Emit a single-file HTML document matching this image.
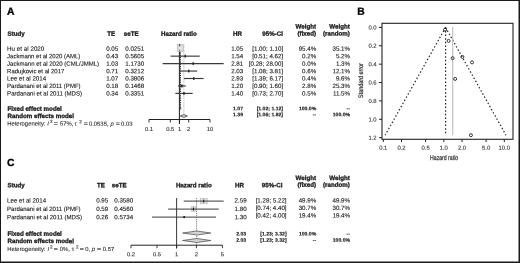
<!DOCTYPE html>
<html><head><meta charset="utf-8"><style>
html,body{margin:0;padding:0;background:#fff;}
svg{display:block;will-change:transform;text-rendering:geometricPrecision;font-family:"Liberation Sans",sans-serif;}
</style></head><body>
<svg width="520" height="263" viewBox="0 0 520 263">
<rect x="0" y="0" width="520" height="263" fill="#fff"/>
<text x="7.00" y="14.75" font-size="10.3" font-weight="bold" fill="#000" stroke="#000" stroke-width="0.3" transform="rotate(0.03 7.00 14.75)">A</text>
<text x="357.20" y="14.75" font-size="10.3" font-weight="bold" fill="#000" stroke="#000" stroke-width="0.3" transform="rotate(0.03 357.20 14.75)">B</text>
<text x="7.00" y="166.10" font-size="10.3" font-weight="bold" fill="#000" stroke="#000" stroke-width="0.3" transform="rotate(0.03 7.00 166.10)">C</text>
<text x="7.50" y="35.70" font-size="6.2" font-weight="bold" fill="#1a1a1a" stroke="#1a1a1a" stroke-width="0.3" transform="rotate(0.03 7.50 35.70)">Study</text>
<text x="115.20" y="35.70" font-size="6.2" font-weight="bold" text-anchor="end" fill="#1a1a1a" stroke="#1a1a1a" stroke-width="0.3" transform="rotate(0.03 115.20 35.70)">TE</text>
<text x="138.60" y="35.70" font-size="6.2" font-weight="bold" text-anchor="end" fill="#1a1a1a" stroke="#1a1a1a" stroke-width="0.3" transform="rotate(0.03 138.60 35.70)">seTE</text>
<text x="179.00" y="35.70" font-size="6.2" font-weight="bold" text-anchor="middle" fill="#1a1a1a" stroke="#1a1a1a" stroke-width="0.3" transform="rotate(0.03 179.00 35.70)">Hazard ratio</text>
<text x="242.00" y="35.70" font-size="6.2" font-weight="bold" text-anchor="end" fill="#1a1a1a" stroke="#1a1a1a" stroke-width="0.3" transform="rotate(0.03 242.00 35.70)">HR</text>
<text x="283.00" y="35.70" font-size="6.2" font-weight="bold" text-anchor="end" fill="#1a1a1a" stroke="#1a1a1a" stroke-width="0.3" transform="rotate(0.03 283.00 35.70)">95%-CI</text>
<text x="316.10" y="28.60" font-size="6.2" font-weight="bold" text-anchor="end" fill="#1a1a1a" stroke="#1a1a1a" stroke-width="0.3" transform="rotate(0.03 316.10 28.60)">Weight</text>
<text x="316.10" y="35.40" font-size="6.2" font-weight="bold" text-anchor="end" fill="#1a1a1a" stroke="#1a1a1a" stroke-width="0.3" transform="rotate(0.03 316.10 35.40)">(fixed)</text>
<text x="349.80" y="28.60" font-size="6.2" font-weight="bold" text-anchor="end" fill="#1a1a1a" stroke="#1a1a1a" stroke-width="0.3" transform="rotate(0.03 349.80 28.60)">Weight</text>
<text x="349.80" y="35.40" font-size="6.2" font-weight="bold" text-anchor="end" fill="#1a1a1a" stroke="#1a1a1a" stroke-width="0.3" transform="rotate(0.03 349.80 35.40)">(random)</text>
<line x1="183.85" y1="44.50" x2="183.85" y2="114.00" stroke="#d2d2d2" stroke-width="1.2" stroke-dasharray="1.8 0.5"/>
<line x1="179.40" y1="51.00" x2="179.40" y2="124.00" stroke="#1a1a1a" stroke-width="1.0"/>
<line x1="180.50" y1="51.60" x2="180.50" y2="109.00" stroke="#111" stroke-width="1.0" stroke-dasharray="0.9 0.9"/>
<text x="7.10" y="50.80" font-size="6.2" fill="#1a1a1a" stroke="#1a1a1a" stroke-width="0.12" transform="rotate(0.03 7.10 50.80)" textLength="37.25" lengthAdjust="spacingAndGlyphs">Hu et al 2020</text>
<text x="118.20" y="50.80" font-size="6.2" text-anchor="end" fill="#1a1a1a" stroke="#1a1a1a" stroke-width="0.12" transform="rotate(0.03 118.20 50.80)">0.05</text>
<text x="144.20" y="50.80" font-size="6.2" text-anchor="end" fill="#1a1a1a" stroke="#1a1a1a" stroke-width="0.12" transform="rotate(0.03 144.20 50.80)">0.0251</text>
<text x="243.20" y="50.80" font-size="6.2" text-anchor="end" fill="#1a1a1a" stroke="#1a1a1a" stroke-width="0.12" transform="rotate(0.03 243.20 50.80)">1.05</text>
<text x="283.20" y="50.80" font-size="6.2" text-anchor="end" fill="#1a1a1a" stroke="#1a1a1a" stroke-width="0.12" transform="rotate(0.03 283.20 50.80)">[1.00; 1.10]</text>
<text x="316.20" y="50.80" font-size="6.2" text-anchor="end" fill="#1a1a1a" stroke="#1a1a1a" stroke-width="0.12" transform="rotate(0.03 316.20 50.80)">95.4%</text>
<text x="350.00" y="50.80" font-size="6.2" text-anchor="end" fill="#1a1a1a" stroke="#1a1a1a" stroke-width="0.12" transform="rotate(0.03 350.00 50.80)">35.1%</text>
<rect x="177.20" y="44.60" width="6.30" height="6.80" fill="#dadada" stroke="#b4b4b4" stroke-width="0.6"/>
<line x1="179.60" y1="44.00" x2="179.60" y2="46.40" stroke="#555" stroke-width="1.2"/>
<rect x="179.50" y="46.60" width="1.90" height="2.70" fill="#f0f0f0" stroke="none" stroke-width="1"/>
<line x1="179.60" y1="49.60" x2="179.60" y2="51.50" stroke="#888" stroke-width="1.0"/>
<text x="7.10" y="58.25" font-size="6.2" fill="#1a1a1a" stroke="#1a1a1a" stroke-width="0.12" transform="rotate(0.03 7.10 58.25)" textLength="73.25" lengthAdjust="spacingAndGlyphs">Jackmann et al 2020 (AML)</text>
<text x="118.20" y="58.25" font-size="6.2" text-anchor="end" fill="#1a1a1a" stroke="#1a1a1a" stroke-width="0.12" transform="rotate(0.03 118.20 58.25)">0.43</text>
<text x="144.20" y="58.25" font-size="6.2" text-anchor="end" fill="#1a1a1a" stroke="#1a1a1a" stroke-width="0.12" transform="rotate(0.03 144.20 58.25)">0.5605</text>
<text x="243.20" y="58.25" font-size="6.2" text-anchor="end" fill="#1a1a1a" stroke="#1a1a1a" stroke-width="0.12" transform="rotate(0.03 243.20 58.25)">1.54</text>
<text x="283.20" y="58.25" font-size="6.2" text-anchor="end" fill="#1a1a1a" stroke="#1a1a1a" stroke-width="0.12" transform="rotate(0.03 283.20 58.25)">[0.51; 4.62]</text>
<text x="316.20" y="58.25" font-size="6.2" text-anchor="end" fill="#1a1a1a" stroke="#1a1a1a" stroke-width="0.12" transform="rotate(0.03 316.20 58.25)">0.2%</text>
<text x="350.00" y="58.25" font-size="6.2" text-anchor="end" fill="#1a1a1a" stroke="#1a1a1a" stroke-width="0.12" transform="rotate(0.03 350.00 58.25)">5.2%</text>
<line x1="170.58" y1="56.15" x2="199.77" y2="56.15" stroke="#3a3a3a" stroke-width="1.15"/>
<rect x="184.55" y="54.75" width="1.33" height="2.80" fill="#222" stroke="none" stroke-width="1"/>
<text x="7.10" y="65.70" font-size="6.2" fill="#1a1a1a" stroke="#1a1a1a" stroke-width="0.12" transform="rotate(0.03 7.10 65.70)" textLength="92.00" lengthAdjust="spacingAndGlyphs">Jackmann et al 2020 (CML/JMML)</text>
<text x="118.20" y="65.70" font-size="6.2" text-anchor="end" fill="#1a1a1a" stroke="#1a1a1a" stroke-width="0.12" transform="rotate(0.03 118.20 65.70)">1.03</text>
<text x="144.20" y="65.70" font-size="6.2" text-anchor="end" fill="#1a1a1a" stroke="#1a1a1a" stroke-width="0.12" transform="rotate(0.03 144.20 65.70)">1.1730</text>
<text x="243.20" y="65.70" font-size="6.2" text-anchor="end" fill="#1a1a1a" stroke="#1a1a1a" stroke-width="0.12" transform="rotate(0.03 243.20 65.70)">2.81</text>
<text x="283.20" y="65.70" font-size="6.2" text-anchor="end" fill="#1a1a1a" stroke="#1a1a1a" stroke-width="0.12" transform="rotate(0.03 283.20 65.70)">[0.28; 28.00]</text>
<text x="316.20" y="65.70" font-size="6.2" text-anchor="end" fill="#1a1a1a" stroke="#1a1a1a" stroke-width="0.12" transform="rotate(0.03 316.20 65.70)">0.0%</text>
<text x="350.00" y="65.70" font-size="6.2" text-anchor="end" fill="#1a1a1a" stroke="#1a1a1a" stroke-width="0.12" transform="rotate(0.03 350.00 65.70)">1.3%</text>
<line x1="162.64" y1="63.60" x2="223.64" y2="63.60" stroke="#3a3a3a" stroke-width="1.15"/>
<rect x="192.54" y="62.20" width="1.30" height="2.80" fill="#222" stroke="none" stroke-width="1"/>
<text x="7.10" y="73.15" font-size="6.2" fill="#1a1a1a" stroke="#1a1a1a" stroke-width="0.12" transform="rotate(0.03 7.10 73.15)" textLength="57.25" lengthAdjust="spacingAndGlyphs">Radujkovic et al 2017</text>
<text x="118.20" y="73.15" font-size="6.2" text-anchor="end" fill="#1a1a1a" stroke="#1a1a1a" stroke-width="0.12" transform="rotate(0.03 118.20 73.15)">0.71</text>
<text x="144.20" y="73.15" font-size="6.2" text-anchor="end" fill="#1a1a1a" stroke="#1a1a1a" stroke-width="0.12" transform="rotate(0.03 144.20 73.15)">0.3212</text>
<text x="243.20" y="73.15" font-size="6.2" text-anchor="end" fill="#1a1a1a" stroke="#1a1a1a" stroke-width="0.12" transform="rotate(0.03 243.20 73.15)">2.03</text>
<text x="283.20" y="73.15" font-size="6.2" text-anchor="end" fill="#1a1a1a" stroke="#1a1a1a" stroke-width="0.12" transform="rotate(0.03 283.20 73.15)">[1.08; 3.81]</text>
<text x="316.20" y="73.15" font-size="6.2" text-anchor="end" fill="#1a1a1a" stroke="#1a1a1a" stroke-width="0.12" transform="rotate(0.03 316.20 73.15)">0.6%</text>
<text x="350.00" y="73.15" font-size="6.2" text-anchor="end" fill="#1a1a1a" stroke="#1a1a1a" stroke-width="0.12" transform="rotate(0.03 350.00 73.15)">12.1%</text>
<line x1="180.52" y1="71.05" x2="197.22" y2="71.05" stroke="#3a3a3a" stroke-width="1.15"/>
<rect x="188.18" y="69.65" width="1.39" height="2.80" fill="#222" stroke="none" stroke-width="1"/>
<text x="7.10" y="80.60" font-size="6.2" fill="#1a1a1a" stroke="#1a1a1a" stroke-width="0.12" transform="rotate(0.03 7.10 80.60)" textLength="39.00" lengthAdjust="spacingAndGlyphs">Lee et al 2014</text>
<text x="118.20" y="80.60" font-size="6.2" text-anchor="end" fill="#1a1a1a" stroke="#1a1a1a" stroke-width="0.12" transform="rotate(0.03 118.20 80.60)">1.07</text>
<text x="144.20" y="80.60" font-size="6.2" text-anchor="end" fill="#1a1a1a" stroke="#1a1a1a" stroke-width="0.12" transform="rotate(0.03 144.20 80.60)">0.3806</text>
<text x="243.20" y="80.60" font-size="6.2" text-anchor="end" fill="#1a1a1a" stroke="#1a1a1a" stroke-width="0.12" transform="rotate(0.03 243.20 80.60)">2.93</text>
<text x="283.20" y="80.60" font-size="6.2" text-anchor="end" fill="#1a1a1a" stroke="#1a1a1a" stroke-width="0.12" transform="rotate(0.03 283.20 80.60)">[1.39; 6.17]</text>
<text x="316.20" y="80.60" font-size="6.2" text-anchor="end" fill="#1a1a1a" stroke="#1a1a1a" stroke-width="0.12" transform="rotate(0.03 316.20 80.60)">0.4%</text>
<text x="350.00" y="80.60" font-size="6.2" text-anchor="end" fill="#1a1a1a" stroke="#1a1a1a" stroke-width="0.12" transform="rotate(0.03 350.00 80.60)">9.6%</text>
<line x1="183.86" y1="78.50" x2="203.60" y2="78.50" stroke="#3a3a3a" stroke-width="1.15"/>
<rect x="193.06" y="77.10" width="1.36" height="2.80" fill="#222" stroke="none" stroke-width="1"/>
<text x="7.10" y="88.05" font-size="6.2" fill="#1a1a1a" stroke="#1a1a1a" stroke-width="0.12" transform="rotate(0.03 7.10 88.05)" textLength="73.50" lengthAdjust="spacingAndGlyphs">Pardanani et al 2011 (PMF)</text>
<text x="118.20" y="88.05" font-size="6.2" text-anchor="end" fill="#1a1a1a" stroke="#1a1a1a" stroke-width="0.12" transform="rotate(0.03 118.20 88.05)">0.18</text>
<text x="144.20" y="88.05" font-size="6.2" text-anchor="end" fill="#1a1a1a" stroke="#1a1a1a" stroke-width="0.12" transform="rotate(0.03 144.20 88.05)">0.1468</text>
<text x="243.20" y="88.05" font-size="6.2" text-anchor="end" fill="#1a1a1a" stroke="#1a1a1a" stroke-width="0.12" transform="rotate(0.03 243.20 88.05)">1.20</text>
<text x="283.20" y="88.05" font-size="6.2" text-anchor="end" fill="#1a1a1a" stroke="#1a1a1a" stroke-width="0.12" transform="rotate(0.03 283.20 88.05)">[0.90; 1.60]</text>
<text x="316.20" y="88.05" font-size="6.2" text-anchor="end" fill="#1a1a1a" stroke="#1a1a1a" stroke-width="0.12" transform="rotate(0.03 316.20 88.05)">2.8%</text>
<text x="350.00" y="88.05" font-size="6.2" text-anchor="end" fill="#1a1a1a" stroke="#1a1a1a" stroke-width="0.12" transform="rotate(0.03 350.00 88.05)">25.3%</text>
<line x1="178.10" y1="85.95" x2="185.73" y2="85.95" stroke="#3a3a3a" stroke-width="1.15"/>
<rect x="181.06" y="84.55" width="1.72" height="2.80" fill="#222" stroke="none" stroke-width="1"/>
<text x="7.10" y="95.50" font-size="6.2" fill="#1a1a1a" stroke="#1a1a1a" stroke-width="0.12" transform="rotate(0.03 7.10 95.50)" textLength="75.00" lengthAdjust="spacingAndGlyphs">Pardanani et al 2011 (MDS)</text>
<text x="118.20" y="95.50" font-size="6.2" text-anchor="end" fill="#1a1a1a" stroke="#1a1a1a" stroke-width="0.12" transform="rotate(0.03 118.20 95.50)">0.34</text>
<text x="144.20" y="95.50" font-size="6.2" text-anchor="end" fill="#1a1a1a" stroke="#1a1a1a" stroke-width="0.12" transform="rotate(0.03 144.20 95.50)">0.3351</text>
<text x="243.20" y="95.50" font-size="6.2" text-anchor="end" fill="#1a1a1a" stroke="#1a1a1a" stroke-width="0.12" transform="rotate(0.03 243.20 95.50)">1.40</text>
<text x="283.20" y="95.50" font-size="6.2" text-anchor="end" fill="#1a1a1a" stroke="#1a1a1a" stroke-width="0.12" transform="rotate(0.03 283.20 95.50)">[0.73; 2.70]</text>
<text x="316.20" y="95.50" font-size="6.2" text-anchor="end" fill="#1a1a1a" stroke="#1a1a1a" stroke-width="0.12" transform="rotate(0.03 316.20 95.50)">0.5%</text>
<text x="350.00" y="95.50" font-size="6.2" text-anchor="end" fill="#1a1a1a" stroke="#1a1a1a" stroke-width="0.12" transform="rotate(0.03 350.00 95.50)">11.5%</text>
<line x1="175.33" y1="93.40" x2="192.66" y2="93.40" stroke="#3a3a3a" stroke-width="1.15"/>
<rect x="183.27" y="92.00" width="1.38" height="2.80" fill="#222" stroke="none" stroke-width="1"/>
<text x="7.50" y="110.70" font-size="6.2" font-weight="bold" fill="#1a1a1a" stroke="#1a1a1a" stroke-width="0.3" transform="rotate(0.03 7.50 110.70)">Fixed effect model</text>
<text x="7.50" y="117.90" font-size="6.2" font-weight="bold" fill="#1a1a1a" stroke="#1a1a1a" stroke-width="0.3" transform="rotate(0.03 7.50 117.90)">Random effects model</text>
<text font-size="5.9" fill="#333" stroke="#333" stroke-width="0.12" transform="rotate(0.03 7.20 125.60)"><tspan x="7.20" y="125.60">Heterogeneity:</tspan><tspan x="47.30" y="125.60" font-style="italic">I</tspan><tspan x="50.00" y="123.10" font-size="4.6">2</tspan><tspan x="53.80" y="125.60" textLength="4.1" lengthAdjust="spacingAndGlyphs">=</tspan><tspan x="59.90" y="125.60">57%,</tspan><tspan x="74.40" y="125.60">τ</tspan><tspan x="79.20" y="123.10" font-size="4.6">2</tspan><tspan x="83.80" y="125.60" textLength="4.1" lengthAdjust="spacingAndGlyphs">=</tspan><tspan x="88.90" y="125.60">0.0535,</tspan><tspan x="110.50" y="125.60" font-style="italic">p</tspan><tspan x="115.80" y="125.60" textLength="4.1" lengthAdjust="spacingAndGlyphs">=</tspan><tspan x="121.10" y="125.60">0.03</tspan></text>
<text x="243.00" y="110.30" font-size="5.1" font-weight="bold" text-anchor="end" fill="#1a1a1a" stroke="#1a1a1a" stroke-width="0.15" transform="rotate(0.03 243.00 110.30)">1.07</text>
<text x="283.00" y="110.30" font-size="5.1" font-weight="bold" text-anchor="end" fill="#1a1a1a" stroke="#1a1a1a" stroke-width="0.15" transform="rotate(0.03 283.00 110.30)">[1.02; 1.12]</text>
<text x="316.20" y="110.30" font-size="5.1" font-weight="bold" text-anchor="end" fill="#1a1a1a" stroke="#1a1a1a" stroke-width="0.15" transform="rotate(0.03 316.20 110.30)">100.0%</text>
<text x="350.00" y="110.30" font-size="5.1" font-weight="bold" text-anchor="end" fill="#1a1a1a" stroke="#1a1a1a" stroke-width="0.15" transform="rotate(0.03 350.00 110.30)">--</text>
<text x="243.00" y="116.30" font-size="5.1" font-weight="bold" text-anchor="end" fill="#1a1a1a" stroke="#1a1a1a" stroke-width="0.15" transform="rotate(0.03 243.00 116.30)">1.39</text>
<text x="283.00" y="116.30" font-size="5.1" font-weight="bold" text-anchor="end" fill="#1a1a1a" stroke="#1a1a1a" stroke-width="0.15" transform="rotate(0.03 283.00 116.30)">[1.06; 1.82]</text>
<text x="316.20" y="116.30" font-size="5.1" font-weight="bold" text-anchor="end" fill="#1a1a1a" stroke="#1a1a1a" stroke-width="0.15" transform="rotate(0.03 316.20 116.30)">--</text>
<text x="350.00" y="116.30" font-size="5.1" font-weight="bold" text-anchor="end" fill="#1a1a1a" stroke="#1a1a1a" stroke-width="0.15" transform="rotate(0.03 350.00 116.30)">100.0%</text>
<polygon points="179.76,108.30 180.40,107.10 181.00,108.30 180.40,109.50" fill="#999" stroke="#333" stroke-width="0.6"/>
<polygon points="180.27,116.00 183.86,114.50 187.43,116.00 183.86,117.50" fill="#ccc" stroke="#333" stroke-width="0.7"/>
<line x1="149.00" y1="119.50" x2="210.00" y2="119.50" stroke="#222" stroke-width="1"/>
<line x1="149.00" y1="119.50" x2="149.00" y2="122.50" stroke="#222" stroke-width="0.9"/>
<text x="149.00" y="131.00" font-size="5.8" text-anchor="middle" fill="#333" stroke="#333" stroke-width="0.12" transform="rotate(0.03 149.00 131.00)">0.1</text>
<line x1="170.32" y1="119.50" x2="170.32" y2="122.50" stroke="#222" stroke-width="0.9"/>
<text x="170.32" y="131.00" font-size="5.8" text-anchor="middle" fill="#333" stroke="#333" stroke-width="0.12" transform="rotate(0.03 170.32 131.00)">0.5</text>
<line x1="179.50" y1="119.50" x2="179.50" y2="122.50" stroke="#222" stroke-width="0.9"/>
<text x="179.50" y="131.00" font-size="5.8" text-anchor="middle" fill="#333" stroke="#333" stroke-width="0.12" transform="rotate(0.03 179.50 131.00)">1</text>
<line x1="188.68" y1="119.50" x2="188.68" y2="122.50" stroke="#222" stroke-width="0.9"/>
<text x="188.68" y="131.00" font-size="5.8" text-anchor="middle" fill="#333" stroke="#333" stroke-width="0.12" transform="rotate(0.03 188.68 131.00)">2</text>
<line x1="210.00" y1="119.50" x2="210.00" y2="122.50" stroke="#222" stroke-width="0.9"/>
<text x="210.00" y="131.00" font-size="5.8" text-anchor="middle" fill="#333" stroke="#333" stroke-width="0.12" transform="rotate(0.03 210.00 131.00)">10</text>
<rect x="382.0" y="23.3" width="131.0" height="116.00000000000001" fill="none" stroke="#222" stroke-width="1.1"/>
<line x1="379.00" y1="27.40" x2="382.00" y2="27.40" stroke="#222" stroke-width="1.0"/>
<text x="376.60" y="29.50" font-size="5.9" text-anchor="end" fill="#333" stroke="#333" stroke-width="0.1" transform="rotate(0.03 376.60 29.50)">0.0</text>
<line x1="379.00" y1="45.78" x2="382.00" y2="45.78" stroke="#222" stroke-width="1.0"/>
<text x="376.60" y="47.88" font-size="5.9" text-anchor="end" fill="#333" stroke="#333" stroke-width="0.1" transform="rotate(0.03 376.60 47.88)">0.2</text>
<line x1="379.00" y1="64.16" x2="382.00" y2="64.16" stroke="#222" stroke-width="1.0"/>
<text x="376.60" y="66.26" font-size="5.9" text-anchor="end" fill="#333" stroke="#333" stroke-width="0.1" transform="rotate(0.03 376.60 66.26)">0.4</text>
<line x1="379.00" y1="82.54" x2="382.00" y2="82.54" stroke="#222" stroke-width="1.0"/>
<text x="376.60" y="84.64" font-size="5.9" text-anchor="end" fill="#333" stroke="#333" stroke-width="0.1" transform="rotate(0.03 376.60 84.64)">0.6</text>
<line x1="379.00" y1="100.92" x2="382.00" y2="100.92" stroke="#222" stroke-width="1.0"/>
<text x="376.60" y="103.02" font-size="5.9" text-anchor="end" fill="#333" stroke="#333" stroke-width="0.1" transform="rotate(0.03 376.60 103.02)">0.8</text>
<line x1="379.00" y1="119.30" x2="382.00" y2="119.30" stroke="#222" stroke-width="1.0"/>
<text x="376.60" y="121.40" font-size="5.9" text-anchor="end" fill="#333" stroke="#333" stroke-width="0.1" transform="rotate(0.03 376.60 121.40)">1.0</text>
<line x1="379.00" y1="137.68" x2="382.00" y2="137.68" stroke="#222" stroke-width="1.0"/>
<text x="376.60" y="139.78" font-size="5.9" text-anchor="end" fill="#333" stroke="#333" stroke-width="0.1" transform="rotate(0.03 376.60 139.78)">1.2</text>
<line x1="383.30" y1="139.30" x2="383.30" y2="142.00" stroke="#222" stroke-width="1.0"/>
<text x="383.30" y="149.80" font-size="5.9" text-anchor="middle" fill="#333" stroke="#333" stroke-width="0.1" transform="rotate(0.03 383.30 149.80)">0.1</text>
<line x1="401.51" y1="139.30" x2="401.51" y2="142.00" stroke="#222" stroke-width="1.0"/>
<text x="401.51" y="149.80" font-size="5.9" text-anchor="middle" fill="#333" stroke="#333" stroke-width="0.1" transform="rotate(0.03 401.51 149.80)">0.2</text>
<line x1="425.59" y1="139.30" x2="425.59" y2="142.00" stroke="#222" stroke-width="1.0"/>
<text x="425.59" y="149.80" font-size="5.9" text-anchor="middle" fill="#333" stroke="#333" stroke-width="0.1" transform="rotate(0.03 425.59 149.80)">0.5</text>
<line x1="443.80" y1="139.30" x2="443.80" y2="142.00" stroke="#222" stroke-width="1.0"/>
<text x="443.80" y="149.80" font-size="5.9" text-anchor="middle" fill="#333" stroke="#333" stroke-width="0.1" transform="rotate(0.03 443.80 149.80)">1.0</text>
<line x1="462.01" y1="139.30" x2="462.01" y2="142.00" stroke="#222" stroke-width="1.0"/>
<text x="462.01" y="149.80" font-size="5.9" text-anchor="middle" fill="#333" stroke="#333" stroke-width="0.1" transform="rotate(0.03 462.01 149.80)">2.0</text>
<line x1="486.09" y1="139.30" x2="486.09" y2="142.00" stroke="#222" stroke-width="1.0"/>
<text x="486.09" y="149.80" font-size="5.9" text-anchor="middle" fill="#333" stroke="#333" stroke-width="0.1" transform="rotate(0.03 486.09 149.80)">5.0</text>
<line x1="504.30" y1="139.30" x2="504.30" y2="142.00" stroke="#222" stroke-width="1.0"/>
<text x="504.30" y="149.80" font-size="5.9" text-anchor="middle" fill="#333" stroke="#333" stroke-width="0.1" transform="rotate(0.03 504.30 149.80)">10.0</text>
<text x="0" y="0" font-size="6.8" fill="#333" stroke="#333" stroke-width="0.25" text-anchor="middle" transform="translate(444.1 160.3) rotate(0.03) scale(0.76 1)">Hazard ratio</text>
<text x="0" y="0" font-size="6.5" fill="#333" stroke="#333" stroke-width="0.25" text-anchor="middle" transform="translate(363.4 80.55) rotate(-90) scale(0.83 1)">Standard error</text>
<line x1="445.58" y1="27.40" x2="385.17" y2="135.20" stroke="#2a2a2a" stroke-width="1.2" stroke-dasharray="1.5 2.1"/>
<line x1="445.58" y1="27.40" x2="505.99" y2="135.20" stroke="#2a2a2a" stroke-width="1.2" stroke-dasharray="1.5 2.1"/>
<line x1="445.58" y1="27.40" x2="445.58" y2="135.20" stroke="#222" stroke-width="1.2" stroke-dasharray="1.5 2.1"/>
<line x1="452.70" y1="26.90" x2="452.70" y2="135.20" stroke="#bdbdbd" stroke-width="1.1"/>
<circle cx="445.08" cy="29.71" r="1.5" fill="none" stroke="#222" stroke-width="0.9"/>
<circle cx="455.15" cy="78.91" r="1.5" fill="none" stroke="#222" stroke-width="0.9"/>
<circle cx="470.95" cy="135.20" r="1.5" fill="none" stroke="#222" stroke-width="0.9"/>
<circle cx="462.40" cy="56.92" r="1.5" fill="none" stroke="#222" stroke-width="0.9"/>
<circle cx="472.05" cy="62.38" r="1.5" fill="none" stroke="#222" stroke-width="0.9"/>
<circle cx="448.59" cy="40.89" r="1.5" fill="none" stroke="#222" stroke-width="0.9"/>
<circle cx="452.64" cy="58.20" r="1.5" fill="none" stroke="#222" stroke-width="0.9"/>
<text x="7.50" y="187.20" font-size="6.2" font-weight="bold" fill="#1a1a1a" stroke="#1a1a1a" stroke-width="0.3" transform="rotate(0.03 7.50 187.20)">Study</text>
<text x="104.90" y="187.20" font-size="6.2" font-weight="bold" text-anchor="end" fill="#1a1a1a" stroke="#1a1a1a" stroke-width="0.3" transform="rotate(0.03 104.90 187.20)">TE</text>
<text x="126.60" y="187.20" font-size="6.2" font-weight="bold" text-anchor="end" fill="#1a1a1a" stroke="#1a1a1a" stroke-width="0.3" transform="rotate(0.03 126.60 187.20)">seTE</text>
<text x="193.80" y="187.20" font-size="6.2" font-weight="bold" text-anchor="middle" fill="#1a1a1a" stroke="#1a1a1a" stroke-width="0.3" transform="rotate(0.03 193.80 187.20)">Hazard ratio</text>
<text x="244.00" y="187.20" font-size="6.2" font-weight="bold" text-anchor="end" fill="#1a1a1a" stroke="#1a1a1a" stroke-width="0.3" transform="rotate(0.03 244.00 187.20)">HR</text>
<text x="282.40" y="187.20" font-size="6.2" font-weight="bold" text-anchor="end" fill="#1a1a1a" stroke="#1a1a1a" stroke-width="0.3" transform="rotate(0.03 282.40 187.20)">95%-CI</text>
<text x="316.10" y="179.90" font-size="6.2" font-weight="bold" text-anchor="end" fill="#1a1a1a" stroke="#1a1a1a" stroke-width="0.3" transform="rotate(0.03 316.10 179.90)">Weight</text>
<text x="316.10" y="186.80" font-size="6.2" font-weight="bold" text-anchor="end" fill="#1a1a1a" stroke="#1a1a1a" stroke-width="0.3" transform="rotate(0.03 316.10 186.80)">(fixed)</text>
<text x="349.80" y="179.90" font-size="6.2" font-weight="bold" text-anchor="end" fill="#1a1a1a" stroke="#1a1a1a" stroke-width="0.3" transform="rotate(0.03 349.80 179.90)">Weight</text>
<text x="349.80" y="186.80" font-size="6.2" font-weight="bold" text-anchor="end" fill="#1a1a1a" stroke="#1a1a1a" stroke-width="0.3" transform="rotate(0.03 349.80 186.80)">(random)</text>
<line x1="176.60" y1="198.00" x2="176.60" y2="248.50" stroke="#222" stroke-width="0.9"/>
<line x1="196.60" y1="198.00" x2="196.60" y2="245.00" stroke="#222" stroke-width="0.8" stroke-dasharray="0.8 1.1"/>
<text x="7.10" y="202.50" font-size="6.2" fill="#1a1a1a" stroke="#1a1a1a" stroke-width="0.12" transform="rotate(0.03 7.10 202.50)" textLength="39.00" lengthAdjust="spacingAndGlyphs">Lee et al 2014</text>
<text x="108.20" y="202.50" font-size="6.2" text-anchor="end" fill="#1a1a1a" stroke="#1a1a1a" stroke-width="0.12" transform="rotate(0.03 108.20 202.50)">0.95</text>
<text x="133.20" y="202.50" font-size="6.2" text-anchor="end" fill="#1a1a1a" stroke="#1a1a1a" stroke-width="0.12" transform="rotate(0.03 133.20 202.50)">0.3580</text>
<text x="246.60" y="202.50" font-size="6.2" text-anchor="end" fill="#1a1a1a" stroke="#1a1a1a" stroke-width="0.12" transform="rotate(0.03 246.60 202.50)">2.59</text>
<text x="286.60" y="202.50" font-size="6.2" text-anchor="end" fill="#1a1a1a" stroke="#1a1a1a" stroke-width="0.12" transform="rotate(0.03 286.60 202.50)">[1.28; 5.22]</text>
<text x="316.20" y="202.50" font-size="6.2" text-anchor="end" fill="#1a1a1a" stroke="#1a1a1a" stroke-width="0.12" transform="rotate(0.03 316.20 202.50)">49.9%</text>
<text x="350.00" y="202.50" font-size="6.2" text-anchor="end" fill="#1a1a1a" stroke="#1a1a1a" stroke-width="0.12" transform="rotate(0.03 350.00 202.50)">49.9%</text>
<rect x="200.28" y="198.30" width="6.90" height="5.60" fill="#e2e2e2" stroke="#b0b0b0" stroke-width="0.5"/>
<line x1="183.71" y1="201.10" x2="223.64" y2="201.10" stroke="#3a3a3a" stroke-width="1.0"/>
<ellipse cx="203.73" cy="201.10" rx="0.6" ry="1.8" fill="#1a1a1a"/>
<text x="7.10" y="210.90" font-size="6.2" fill="#1a1a1a" stroke="#1a1a1a" stroke-width="0.12" transform="rotate(0.03 7.10 210.90)" textLength="73.50" lengthAdjust="spacingAndGlyphs">Pardanani et al 2011 (PMF)</text>
<text x="108.20" y="210.90" font-size="6.2" text-anchor="end" fill="#1a1a1a" stroke="#1a1a1a" stroke-width="0.12" transform="rotate(0.03 108.20 210.90)">0.59</text>
<text x="133.20" y="210.90" font-size="6.2" text-anchor="end" fill="#1a1a1a" stroke="#1a1a1a" stroke-width="0.12" transform="rotate(0.03 133.20 210.90)">0.4560</text>
<text x="246.60" y="210.90" font-size="6.2" text-anchor="end" fill="#1a1a1a" stroke="#1a1a1a" stroke-width="0.12" transform="rotate(0.03 246.60 210.90)">1.80</text>
<text x="286.60" y="209.95" font-size="6.2" text-anchor="end" fill="#1a1a1a" stroke="#1a1a1a" stroke-width="0.12" transform="rotate(0.03 286.60 209.95)">[0.74; 4.40]</text>
<text x="316.20" y="209.95" font-size="6.2" text-anchor="end" fill="#1a1a1a" stroke="#1a1a1a" stroke-width="0.12" transform="rotate(0.03 316.20 209.95)">30.7%</text>
<text x="350.00" y="209.95" font-size="6.2" text-anchor="end" fill="#1a1a1a" stroke="#1a1a1a" stroke-width="0.12" transform="rotate(0.03 350.00 209.95)">30.7%</text>
<rect x="191.29" y="206.70" width="4.20" height="4.80" fill="#e2e2e2" stroke="#b0b0b0" stroke-width="0.5"/>
<line x1="168.15" y1="209.10" x2="218.78" y2="209.10" stroke="#3a3a3a" stroke-width="1.0"/>
<ellipse cx="193.39" cy="209.10" rx="0.6" ry="1.8" fill="#1a1a1a"/>
<text x="7.10" y="219.30" font-size="6.2" fill="#1a1a1a" stroke="#1a1a1a" stroke-width="0.12" transform="rotate(0.03 7.10 219.30)" textLength="75.00" lengthAdjust="spacingAndGlyphs">Pardanani et al 2011 (MDS)</text>
<text x="108.20" y="219.30" font-size="6.2" text-anchor="end" fill="#1a1a1a" stroke="#1a1a1a" stroke-width="0.12" transform="rotate(0.03 108.20 219.30)">0.26</text>
<text x="133.20" y="219.30" font-size="6.2" text-anchor="end" fill="#1a1a1a" stroke="#1a1a1a" stroke-width="0.12" transform="rotate(0.03 133.20 219.30)">0.5734</text>
<text x="246.60" y="219.30" font-size="6.2" text-anchor="end" fill="#1a1a1a" stroke="#1a1a1a" stroke-width="0.12" transform="rotate(0.03 246.60 219.30)">1.30</text>
<text x="286.60" y="217.40" font-size="6.2" text-anchor="end" fill="#1a1a1a" stroke="#1a1a1a" stroke-width="0.12" transform="rotate(0.03 286.60 217.40)">[0.42; 4.00]</text>
<text x="316.20" y="217.40" font-size="6.2" text-anchor="end" fill="#1a1a1a" stroke="#1a1a1a" stroke-width="0.12" transform="rotate(0.03 316.20 217.40)">19.4%</text>
<text x="350.00" y="217.40" font-size="6.2" text-anchor="end" fill="#1a1a1a" stroke="#1a1a1a" stroke-width="0.12" transform="rotate(0.03 350.00 217.40)">19.4%</text>
<line x1="152.06" y1="217.10" x2="216.07" y2="217.10" stroke="#3a3a3a" stroke-width="1.0"/>
<circle cx="184.15" cy="217.10" r="1.1" fill="#1a1a1a"/>
<text x="7.50" y="235.80" font-size="6.2" font-weight="bold" fill="#1a1a1a" stroke="#1a1a1a" stroke-width="0.3" transform="rotate(0.03 7.50 235.80)">Fixed effect model</text>
<text x="7.50" y="243.10" font-size="6.2" font-weight="bold" fill="#1a1a1a" stroke="#1a1a1a" stroke-width="0.3" transform="rotate(0.03 7.50 243.10)">Random effects model</text>
<text font-size="5.9" fill="#333" stroke="#333" stroke-width="0.12" transform="rotate(0.03 7.20 250.90)"><tspan x="7.20" y="250.90">Heterogeneity:</tspan><tspan x="47.40" y="250.90" font-style="italic">I</tspan><tspan x="50.00" y="248.40" font-size="4.6">2</tspan><tspan x="53.80" y="250.90" textLength="4.1" lengthAdjust="spacingAndGlyphs">=</tspan><tspan x="59.80" y="250.90">0%,</tspan><tspan x="71.80" y="250.90">τ</tspan><tspan x="75.90" y="248.40" font-size="4.6">2</tspan><tspan x="79.80" y="250.90" textLength="4.1" lengthAdjust="spacingAndGlyphs">=</tspan><tspan x="85.30" y="250.90">0,</tspan><tspan x="91.70" y="250.90" font-style="italic">p</tspan><tspan x="96.90" y="250.90" textLength="4.1" lengthAdjust="spacingAndGlyphs">=</tspan><tspan x="102.80" y="250.90">0.57</tspan></text>
<text x="246.20" y="235.50" font-size="5.1" font-weight="bold" text-anchor="end" fill="#1a1a1a" stroke="#1a1a1a" stroke-width="0.15" transform="rotate(0.03 246.20 235.50)">2.03</text>
<text x="286.60" y="235.50" font-size="5.1" font-weight="bold" text-anchor="end" fill="#1a1a1a" stroke="#1a1a1a" stroke-width="0.15" transform="rotate(0.03 286.60 235.50)">[1.23; 3.32]</text>
<text x="316.20" y="235.50" font-size="5.1" font-weight="bold" text-anchor="end" fill="#1a1a1a" stroke="#1a1a1a" stroke-width="0.15" transform="rotate(0.03 316.20 235.50)">100.0%</text>
<text x="350.00" y="235.50" font-size="5.1" font-weight="bold" text-anchor="end" fill="#1a1a1a" stroke="#1a1a1a" stroke-width="0.15" transform="rotate(0.03 350.00 235.50)">--</text>
<text x="246.20" y="241.80" font-size="5.1" font-weight="bold" text-anchor="end" fill="#1a1a1a" stroke="#1a1a1a" stroke-width="0.15" transform="rotate(0.03 246.20 241.80)">2.03</text>
<text x="286.60" y="241.80" font-size="5.1" font-weight="bold" text-anchor="end" fill="#1a1a1a" stroke="#1a1a1a" stroke-width="0.15" transform="rotate(0.03 286.60 241.80)">[1.23; 3.32]</text>
<text x="316.20" y="241.80" font-size="5.1" font-weight="bold" text-anchor="end" fill="#1a1a1a" stroke="#1a1a1a" stroke-width="0.15" transform="rotate(0.03 316.20 241.80)">--</text>
<text x="350.00" y="241.80" font-size="5.1" font-weight="bold" text-anchor="end" fill="#1a1a1a" stroke="#1a1a1a" stroke-width="0.15" transform="rotate(0.03 350.00 241.80)">100.0%</text>
<polygon points="182.58,233.00 196.81,231.00 210.78,233.00 196.81,235.00" fill="#d4d4d4" stroke="#444" stroke-width="0.7"/>
<polygon points="182.58,240.50 196.81,238.50 210.78,240.50 196.81,242.50" fill="#d4d4d4" stroke="#444" stroke-width="0.7"/>
<line x1="130.99" y1="245.20" x2="222.41" y2="245.20" stroke="#222" stroke-width="1"/>
<line x1="130.99" y1="245.20" x2="130.99" y2="248.20" stroke="#222" stroke-width="0.9"/>
<text x="130.99" y="256.20" font-size="5.8" text-anchor="middle" fill="#333" stroke="#333" stroke-width="0.12" transform="rotate(0.03 130.99 256.20)">0.2</text>
<line x1="157.01" y1="245.20" x2="157.01" y2="248.20" stroke="#222" stroke-width="0.9"/>
<text x="157.01" y="256.20" font-size="5.8" text-anchor="middle" fill="#333" stroke="#333" stroke-width="0.12" transform="rotate(0.03 157.01 256.20)">0.5</text>
<line x1="176.70" y1="245.20" x2="176.70" y2="248.20" stroke="#222" stroke-width="0.9"/>
<text x="176.70" y="256.20" font-size="5.8" text-anchor="middle" fill="#333" stroke="#333" stroke-width="0.12" transform="rotate(0.03 176.70 256.20)">1</text>
<line x1="196.39" y1="245.20" x2="196.39" y2="248.20" stroke="#222" stroke-width="0.9"/>
<text x="196.39" y="256.20" font-size="5.8" text-anchor="middle" fill="#333" stroke="#333" stroke-width="0.12" transform="rotate(0.03 196.39 256.20)">2</text>
<line x1="222.41" y1="245.20" x2="222.41" y2="248.20" stroke="#222" stroke-width="0.9"/>
<text x="222.41" y="256.20" font-size="5.8" text-anchor="middle" fill="#333" stroke="#333" stroke-width="0.12" transform="rotate(0.03 222.41 256.20)">5</text>
<rect x="0" y="0" width="520" height="1" fill="#1a1a1a"/>
<rect x="0" y="0" width="1" height="263" fill="#1a1a1a"/>
<rect x="518.5" y="0" width="1.5" height="263" fill="#1a1a1a"/>
<rect x="0" y="261.5" width="520" height="1.5" fill="#1a1a1a"/>
</svg>
</body></html>
